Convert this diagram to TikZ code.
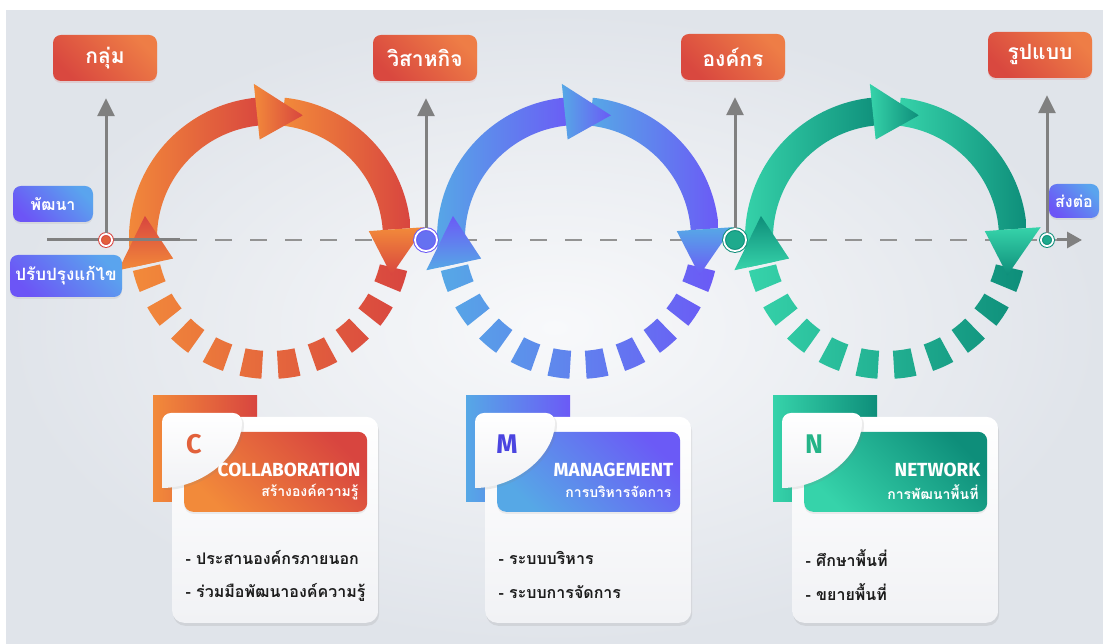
\documentclass[tikz,border=0pt]{standalone}
\usepackage{fontspec}
\setmainfont{Fira Sans}
\newfontfamily\thaifont[Script=Thai]{Loma}
\usetikzlibrary{positioning}
\usetikzlibrary{arrows.meta}
\usetikzlibrary{shadows}

\definecolor{orL}{HTML}{F28A3A}
\definecolor{orD}{HTML}{D8453F}
\definecolor{buL}{HTML}{56A8E6}
\definecolor{buD}{HTML}{6B5AF6}
\definecolor{grL}{HTML}{36D3AA}
\definecolor{grD}{HTML}{0E8E7A}
\definecolor{lblL}{HTML}{EE7D46}
\definecolor{lblD}{HTML}{D9483F}
\definecolor{sideL}{HTML}{5AA4EE}
\definecolor{sideD}{HTML}{6C55F6}
\definecolor{cC}{HTML}{E2613B}
\definecolor{cM}{HTML}{4B45E0}
\definecolor{cN}{HTML}{25B488}
\definecolor{axgray}{HTML}{808080}
\definecolor{bgIn}{HTML}{F8F9FB}
\definecolor{bgOut}{HTML}{E0E4EA}
\definecolor{cardBot}{HTML}{F1F2F5}
\definecolor{txt}{HTML}{1C1C1C}

\tikzset{
  toplbl/.style={rounded corners=8pt, minimum width=104pt, minimum height=46pt, inner sep=0pt,
    top color=lblL, bottom color=lblD, shading angle=-45, text=white,
    font=\thaifont\bfseries\fontsize{21}{22}\selectfont,
    drop shadow={opacity=0.15, shadow xshift=0pt, shadow yshift=-2pt, fill=lblD}},
  sidelbl/.style={rounded corners=8pt, inner sep=0pt, text=white,
    top color=sideL, bottom color=sideD, shading angle=-45,
    drop shadow={opacity=0.12, shadow xshift=0pt, shadow yshift=-2pt}},
  ring/.style={circle, inner sep=0pt, line width=1pt, double=white, double distance=1.8pt},
  upline/.style={draw=axgray, line width=3pt, -{Triangle[width=17pt, length=18pt]}, shorten >=17pt},
  axsolid/.style={draw=axgray, line width=3pt},
  axdash/.style={draw=axgray!85, line width=1.6pt, dash pattern=on 17pt off 18pt},
  cardbox/.style={rounded corners=12pt, minimum width=206pt, minimum height=206pt, inner sep=0pt,
    top color=white, bottom color=cardBot,
    drop shadow={opacity=0.16, shadow xshift=1pt, shadow yshift=-3pt}},
  hdrbox/.style={rounded corners=9pt, minimum width=183pt, minimum height=80pt, inner sep=0pt,
    drop shadow={opacity=0.12, shadow xshift=0pt, shadow yshift=-2pt}},
  bullet/.style={anchor=west, text=txt, font=\thaifont\bfseries\fontsize{16}{17}\selectfont}
}

\begin{document}
\begin{tikzpicture}[x=1pt, y=1pt]
  \useasboundingbox (0,0) rectangle (1103,644);
  \fill[white] (0,0) rectangle (1103,644);
  \shade[inner color=bgIn, outer color=bgOut] (6,0) rectangle (1103,633);

  % axis
  \coordinate (axL) at (47,404);
  \coordinate (axM) at (180,404);
  \coordinate (axE) at (1057,404);
  \coordinate (axR) at (1082,404);
  \draw[axdash] (axM) -- (axE);

  % cycles
  \foreach \cx/\cl/\cd in {270/orL/orD, 578/buL/buD, 886/grL/grD} {
    \begin{scope}[shift={(\cx,406)}]
      \shade[left color=\cl, right color=\cd] foreach \a in {-18,-34,...,-162} {
        (\a-4.5:113pt) arc[start angle=\a-4.5, end angle=\a+4.5, radius=113pt]
        -- (\a+4.5:141pt) arc[start angle=\a+4.5, end angle=\a-4.5, radius=141pt] -- cycle};
      \shade[left color=\cl, right color=\cd] (192:113pt) arc[start angle=192, end angle=92, radius=113pt]
        -- (92:141pt) arc[start angle=92, end angle=192, radius=141pt] -- cycle;
      \shade[left color=\cl, right color=\cd] (84:113pt) arc[start angle=84, end angle=4, radius=113pt]
        -- (4:141pt) arc[start angle=4, end angle=84, radius=141pt] -- cycle;
      \shade[left color=\cl, right color=\cd] (96:99pt) -- (96:155pt) -- (75:127pt) -- cycle;
      \shade[top color=\cd, bottom color=\cl] (192:99pt) -- (192:155pt) -- (170:127pt) -- cycle;
      \shade[top color=\cl, bottom color=\cd] (4:99pt) -- (4:155pt) -- (-17:127pt) -- cycle;
    \end{scope}
  }

  \draw[axsolid] (axL) -- (axM);
  \draw[axsolid, -{Triangle[width=16pt, length=15pt]}] (axE) -- (axR);

  % top labels
  \node[toplbl] (grp) at (105,586) {กลุ่ม};
  \node[toplbl] (biz) at (425,586) {วิสาหกิจ};
  \node[toplbl] (org) at (733,587) {องค์กร};
  \node[toplbl] (form) at (1040,589) {รูปแบบ};

  % points on the axis
  \node[ring, draw=orD, fill=cC, minimum size=12pt] (p1) at (106,404) {};
  \node[ring, draw=buD, fill=buD!70!buL, minimum size=22pt] (p2) at (426,404) {};
  \node[ring, draw=grD, fill=grD!60!grL, minimum size=22pt] (p3) at (735,404) {};
  \node[ring, draw=grD, fill=grD!60!grL, minimum size=12pt] (p4) at (1047,404) {};

  \draw[upline] (p1) -- (p1 |- grp.south);
  \draw[upline] (p2) -- (p2 |- biz.south);
  \draw[upline] (p3) -- (p3 |- org.south);
  \draw[upline] (p4) -- (p4 |- form.south);

  % side labels
  \node[sidelbl, minimum width=80pt, minimum height=36pt, font=\thaifont\bfseries\fontsize{16}{17}\selectfont] (dev) at (53,440) {พัฒนา};
  \node[sidelbl, minimum width=112pt, minimum height=42pt, font=\thaifont\bfseries\fontsize{17}{18}\selectfont] (fix) at (66,368) {ปรับปรุงแก้ไข};
  \node[sidelbl, minimum width=50pt, minimum height=34pt, font=\thaifont\bfseries\fontsize{16}{17}\selectfont] (send) at (1074,443) {ส่งต่อ};

  % cards
  \foreach \X/\cl/\cd/\lc/\ltr/\ttl/\sub/\bA/\bB [count=\i] in {
    172/orL/orD/cC/C/COLLABORATION/สร้างองค์ความรู้/ประสานองค์กรภายนอก/ร่วมมือพัฒนาองค์ความรู้,
    485/buL/buD/cM/M/MANAGEMENT/การบริหารจัดการ/ระบบบริหาร/ระบบการจัดการ,
    792/grL/grD/cN/N/NETWORK/การพัฒนาพื้นที่/ศึกษาพื้นที่/ขยายพื้นที่} {
    \shade[left color=\cl, right color=\cd] (\X-19,142) rectangle (\X+85,248);
    \node[cardbox, anchor=south west] (card\i) at (\X,21) {};
    \node[hdrbox, top color=\cd, bottom color=\cl, shading angle=-45, anchor=south west] (hdr\i) at (\X+12,132) {};
    \shade[top color=white, bottom color=cardBot, drop shadow={opacity=0.15, shadow xshift=2pt, shadow yshift=-2pt}]
      (\X-10,156) [rounded corners=9pt] -- (\X-10,231) -- (\X+70,231) [sharp corners]
      .. controls (\X+70,188) and (\X+30,156) .. (\X-10,156) -- cycle;
    \node[text=\lc, font=\bfseries\fontsize{27}{28}\selectfont] (ltr\i) at (\X+22,200) {\ltr};
    \node[anchor=east, text=white, font=\bfseries\fontsize{19}{20}\selectfont] (ttl\i) at (\X+192,174) {\ttl};
    \node[anchor=east, text=white, font=\thaifont\bfseries\fontsize{14}{15}\selectfont] (sub\i) at (\X+190,152) {\sub};
    \node[bullet] (bul\i-1) at (\X+10,86) {- \bA};
    \node[bullet] (bul\i-2) at (\X+10,52) {- \bB};
  }
\end{tikzpicture}
\end{document}
